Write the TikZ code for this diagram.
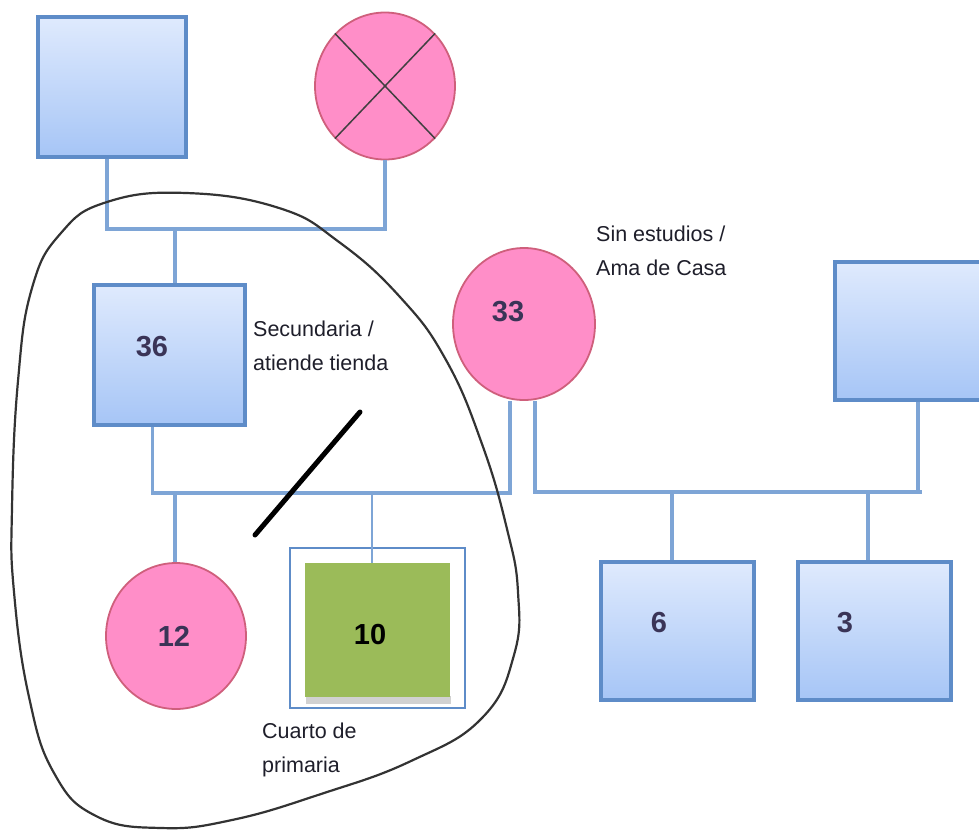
\documentclass[tikz,border=0pt]{standalone}
\usepackage{fontspec}
\setmainfont{Liberation Sans}
\usetikzlibrary{shapes.geometric}

\definecolor{boxtop}{HTML}{DFEAFD}
\definecolor{boxbot}{HTML}{A6C5F6}
\definecolor{boxedge}{HTML}{5E8CC8}
\definecolor{linkblue}{HTML}{7EA5D6}
\definecolor{pinkfill}{HTML}{FF8EC8}
\definecolor{pinkedge}{HTML}{CF5F7C}
\definecolor{greenfill}{HTML}{9BBB59}
\definecolor{numcol}{HTML}{3A3457}
\definecolor{txtcol}{HTML}{1E1E2A}

\tikzset{
  male/.style={rectangle, draw=boxedge, line width=3.5pt, top color=boxtop, bottom color=boxbot, inner sep=0pt},
  female/.style={ellipse, draw=pinkedge, line width=1.8pt, fill=pinkfill, inner sep=0pt},
  link/.style={draw=linkblue, line width=3.5pt},
  agetxt/.style={font=\fontsize{29}{29}\selectfont\bfseries, text=numcol, inner sep=0pt},
  note/.style={font=\fontsize{21.5}{34}\selectfont, text=txtcol, align=left, anchor=west, inner sep=0pt},
  household/.style={draw=black!80, line width=2.2pt},
  slash/.style={draw=black, line width=5pt, line cap=round}
}

\begin{document}
\begin{tikzpicture}[x=1pt, y=-1pt]
\useasboundingbox (0,0) rectangle (979,833);

% grandparents
\node[male, minimum width=148, minimum height=140] (gf) at (112,87) {};
\node[female, minimum width=140, minimum height=147] (gm) at (385,86) {};
\draw[line width=1.5pt, black!75] (gm.north west) -- (gm.south east)
                                   (gm.north east) -- (gm.south west);

% parents
\node[male, minimum width=151, minimum height=140] (fa) at (169.5,355) {};
\node[agetxt] (fa36) at (152,347) {36};
\node[female, minimum width=142, minimum height=152] (mo) at (524,324) {};
\node[agetxt] (mo33) at (508,312) {33};
\node[male, minimum width=150, minimum height=138] (rm) at (910,331) {};

% children
\node[female, minimum width=140, minimum height=146] (d12) at (176,636) {};
\node[agetxt] (d12t) at (174,636) {12};
\node[rectangle, draw=boxedge, line width=2pt, fill=white, minimum width=175, minimum height=160, inner sep=0pt] (sfr) at (377.5,628) {};
\node[rectangle, fill=black!18, minimum width=145, minimum height=8, inner sep=0pt] (ssh) at (378.5,700) {};
\node[rectangle, fill=greenfill, minimum width=145, minimum height=134, inner sep=0pt] (s10) at (377.5,630) {};
\node[agetxt, text=black] (s10t) at (370,635) {10};
\node[male, minimum width=153, minimum height=138] (s6) at (677.5,631) {};
\node[agetxt] (s6t) at (659,623) {6};
\node[male, minimum width=153, minimum height=138] (s3) at (874.5,631) {};
\node[agetxt] (s3t) at (845,623) {3};

% notes
\node[note] (nfa) at (253,346) {Secundaria /\\atiende tienda};
\node[note] (nmo) at (596,251) {Sin estudios /\\Ama de Casa};
\node[note] (ns10) at (262,750) {Cuarto de\\primaria};

% unions and descent lines
\draw[link] ([xshift=-5pt]gf.south) -- ++(0,70) -| (gm.south);
\coordinate (u1) at (175,227);
\draw[link] (u1) -- (u1 |- fa.north);

\draw[link] ([xshift=-17pt]fa.south) -- ++(0,66) -| ([xshift=-14pt]mo.south);
\draw[link] ([xshift=11pt]mo.south) -- ++(0,91) -- ++(387,0);
\draw[link] ([xshift=8pt]rm.south) -- ++(0,91);

\coordinate (c12) at (175,491);
\coordinate (c10) at (372,491);
\coordinate (c6) at (672,491);
\coordinate (c3) at (868,491);
\draw[link] (c12) -- (c12 |- d12.north);
\draw[link, line width=2.5pt] (c10) -- (c10 |- s10.north);
\draw[link] (c6) -- (c6 |- s6.north);
\draw[link] (c3) -- (c3 |- s3.north);

% separation mark
\coordinate (sl1) at (255,535);
\coordinate (sl2) at (360,412);
\draw[slash] (sl1) -- (sl2);

% household boundary
\draw[household] plot[smooth cycle, tension=0.75] coordinates {
  (186,193) (279,208) (339,242) (400,297) (446,360) (482,444)
  (507,529) (518,592) (514,655) (482,718) (411,761) (321,794)
  (232,820) (161,828) (96,816) (54,773) (29,697) (14,592)
  (12,508) (18,381) (32,288) (61,233) (107,202)};
\end{tikzpicture}
\end{document}
